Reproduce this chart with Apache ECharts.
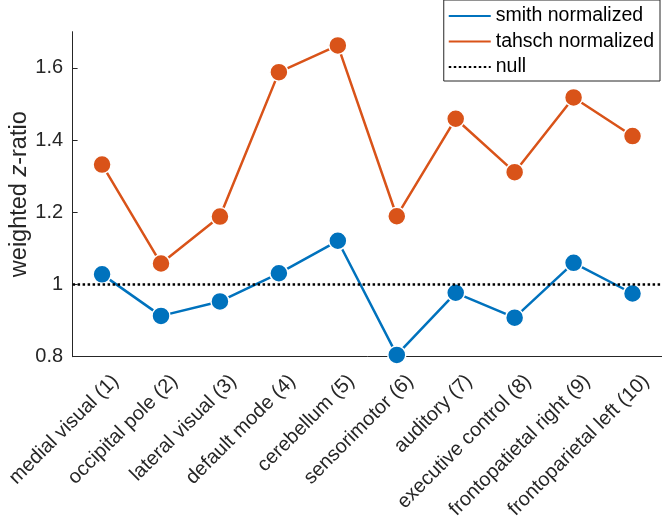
<!DOCTYPE html>
<html>
<head>
<meta charset="utf-8">
<script src="https://cdn.jsdelivr.net/npm/echarts@6/dist/echarts.min.js"></script>
<style>html,body{margin:0;padding:0;background:#fff}#c{width:662px;height:525px}</style>
</head>
<body>
<div id="c"></div>
<script>
const categories = ['medial visual (1)','occipital pole (2)','lateral visual (3)','default mode (4)','cerebellum (5)','sensorimotor (6)','auditory (7)','executive control (8)','frontopatietal right (9)','frontoparietal left (10)'];
const smithValues = [1.028, 0.913, 0.953, 1.031, 1.121, 0.805, 0.977, 0.908, 1.060, 0.975];
const tahschValues = [1.332, 1.058, 1.188, 1.588, 1.662, 1.189, 1.459, 1.311, 1.518, 1.411];
const nullValue = 1;
const yTicks = [0.8, 1, 1.2, 1.4, 1.6];

const FONT = '"Liberation Sans", Helvetica, Arial, sans-serif';
const chart = echarts.init(document.getElementById('c'), null, {renderer: 'canvas'});
const markerStyle = (c) => ({color: c, borderColor: '#fff', borderWidth: 1.5});
chart.setOption({
  animation: false,
  grid: {left: 72.6, right: 0, top: 31.7, bottom: 168.3, containLabel: false, outerBoundsMode: 'none'},
  legend: {
    orient: 'vertical', right: 2, top: 0,
    padding: [6, 6, 4, 4],
    borderColor: '#262626', borderWidth: 1,
    backgroundColor: '#fff',
    itemWidth: 42, itemHeight: 14, itemGap: 5.5,
    itemStyle: {opacity: 0},
    textStyle: {fontFamily: FONT, fontSize: 19.5, color: '#000'},
    data: ['smith normalized', 'tahsch normalized', 'null']
  },
  xAxis: {
    type: 'category', data: categories, boundaryGap: true,
    axisLine: {lineStyle: {color: '#262626', width: 1}},
    axisTick: {alignWithLabel: true, inside: true, length: 5, lineStyle: {color: '#262626'}},
    axisLabel: {rotate: 45, interval: 0, margin: 8, verticalAlign: 'top', padding: [9, 0, 0, 0], fontFamily: FONT, fontSize: 20, color: '#262626'},
    splitLine: {show: false}
  },
  yAxis: {
    type: 'value', min: 0.8, max: 1.7,
    name: '{a|weighted }{b|z}{a|-ratio}',
    nameLocation: 'middle', nameRotate: 90, nameGap: 41, nameMoveOverlap: false,
    nameTextStyle: {rich: {
      a: {fontFamily: FONT, fontSize: 23.5, color: '#262626'},
      b: {fontFamily: FONT, fontSize: 23.5, color: '#262626', fontStyle: 'italic'}
    }},
    axisLine: {show: true, lineStyle: {color: '#262626', width: 1}},
    axisTick: {show: true, inside: true, length: 5, customValues: yTicks, lineStyle: {color: '#262626'}},
    axisLabel: {customValues: yTicks, margin: 9.5, fontFamily: FONT, fontSize: 20, color: '#262626'},
    splitLine: {show: false}
  },
  series: [
    {
      name: 'smith normalized', type: 'line', data: smithValues,
      symbol: 'circle', symbolSize: 18,
      lineStyle: {color: '#0072BD', width: 2.5},
      itemStyle: markerStyle('#0072BD'), z: 3
    },
    {
      name: 'tahsch normalized', type: 'line', data: tahschValues,
      symbol: 'circle', symbolSize: 18,
      lineStyle: {color: '#D95319', width: 2.5},
      itemStyle: markerStyle('#D95319'), z: 3
    },
    {
      name: 'null', type: 'line', data: [],
      symbol: 'none',
      lineStyle: {color: '#000', width: 2.5, type: [2.5, 2.5]},
      itemStyle: {color: '#000'},
      markLine: {
        silent: true, symbol: 'none', label: {show: false},
        lineStyle: {color: '#000', width: 2.5, type: [2.5, 2.5]},
        data: [{yAxis: nullValue}]
      }, z: 1
    }
  ]
});
</script>
</body>
</html>
